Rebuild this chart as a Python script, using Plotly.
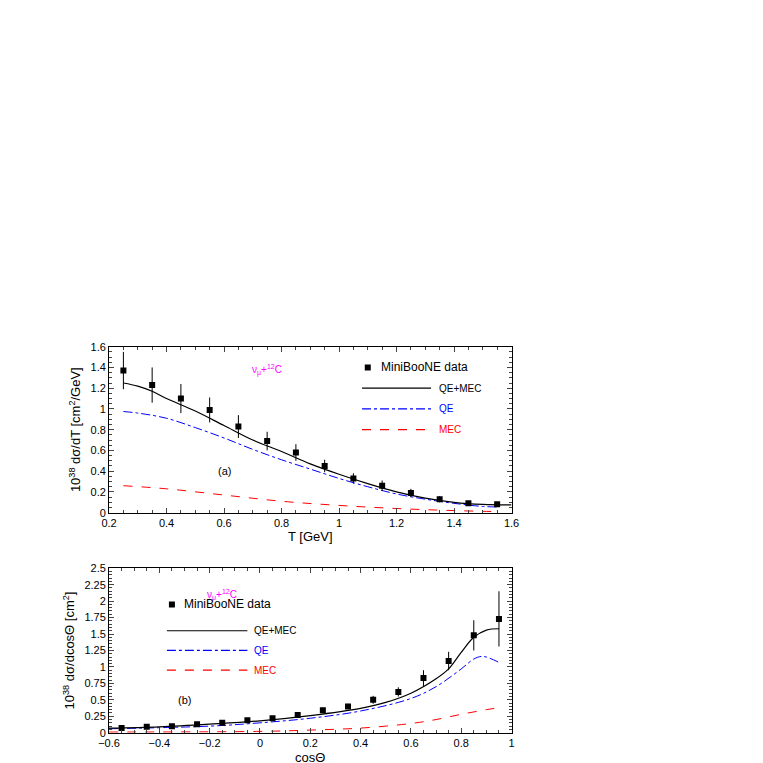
import plotly.graph_objects as go
from plotly.subplots import make_subplots

# panel (a): d sigma / dT
t_data = [0.25, 0.35, 0.45, 0.55, 0.65, 0.75, 0.85, 0.95, 1.05, 1.15, 1.25, 1.35, 1.45, 1.55]
t_vals = [1.37, 1.23, 1.10, 0.99, 0.83, 0.69, 0.58, 0.45, 0.33, 0.26, 0.19, 0.13, 0.09, 0.08]
t_errs = [0.18, 0.17, 0.14, 0.12, 0.11, 0.09, 0.08, 0.06, 0.05, 0.05, 0.04, 0.03, 0.02, 0.02]
t_tot_x = [0.25, 0.3, 0.35, 0.4, 0.5, 0.6, 0.7, 0.8, 0.9, 1.0, 1.1, 1.2, 1.3, 1.4, 1.5, 1.6]
t_tot_y = [1.25, 1.22, 1.17, 1.10, 0.98, 0.84, 0.70, 0.59, 0.47, 0.37, 0.28, 0.20, 0.14, 0.10, 0.08, 0.075]
t_qe_x = [0.25, 0.3, 0.4, 0.5, 0.6, 0.7, 0.8, 0.9, 1.0, 1.1, 1.2, 1.3, 1.4, 1.5, 1.55]
t_qe_y = [0.975, 0.96, 0.91, 0.82, 0.72, 0.61, 0.51, 0.42, 0.33, 0.25, 0.18, 0.13, 0.09, 0.06, 0.055]
t_mec_x = [0.25, 0.4, 0.6, 0.8, 1.0, 1.2, 1.4, 1.55]
t_mec_y = [0.26, 0.23, 0.17, 0.11, 0.07, 0.04, 0.02, 0.01]

# panel (b): d sigma / dcos
c_data = [-0.55, -0.45, -0.35, -0.25, -0.15, -0.05, 0.05, 0.15, 0.25, 0.35, 0.45, 0.55, 0.65, 0.75, 0.85, 0.95]
c_vals = [0.07, 0.09, 0.10, 0.13, 0.15, 0.19, 0.22, 0.27, 0.34, 0.40, 0.50, 0.62, 0.83, 1.09, 1.48, 1.73]
c_errs = [0.02, 0.02, 0.02, 0.02, 0.02, 0.02, 0.03, 0.03, 0.04, 0.04, 0.06, 0.07, 0.12, 0.14, 0.23, 0.42]
c_tot_x = [-0.6, -0.4, -0.2, 0.0, 0.2, 0.4, 0.5, 0.6, 0.7, 0.75, 0.8, 0.85, 0.9, 0.95]
c_tot_y = [0.07, 0.09, 0.13, 0.18, 0.26, 0.37, 0.46, 0.60, 0.82, 0.97, 1.22, 1.45, 1.56, 1.58]
c_qe_x = [-0.6, -0.2, 0.0, 0.2, 0.4, 0.6, 0.7, 0.8, 0.85, 0.88, 0.9, 0.95]
c_qe_y = [0.06, 0.10, 0.15, 0.22, 0.33, 0.52, 0.70, 0.97, 1.12, 1.16, 1.15, 1.07]
c_mec_x = [-0.6, 0.0, 0.2, 0.4, 0.6, 0.7, 0.8, 0.9, 0.95]
c_mec_y = [0.01, 0.02, 0.04, 0.07, 0.14, 0.20, 0.28, 0.35, 0.38]

FONT = "Liberation Sans, Arial, sans-serif"
fig = make_subplots(rows=2, cols=1)

def add_panel(row, dx, dy, de, tx, ty, qx, qy, mx, my):
    fig.add_trace(go.Scatter(x=mx, y=my, mode="lines", line=dict(color="red", width=1, dash="dash"),
                             line_shape="spline"), row=row, col=1)
    fig.add_trace(go.Scatter(x=qx, y=qy, mode="lines", line=dict(color="blue", width=1, dash="dashdot"),
                             line_shape="spline"), row=row, col=1)
    fig.add_trace(go.Scatter(x=tx, y=ty, mode="lines", line=dict(color="black", width=1.2),
                             line_shape="spline"), row=row, col=1)
    fig.add_trace(go.Scatter(x=dx, y=dy, mode="markers", marker=dict(symbol="square", size=6, color="black"),
                             error_y=dict(array=de, color="black", thickness=1, width=0),
                             error_x=dict(value=0.05, color="black", thickness=1, width=0)), row=row, col=1)

add_panel(1, t_data, t_vals, t_errs, t_tot_x, t_tot_y, t_qe_x, t_qe_y, t_mec_x, t_mec_y)
add_panel(2, c_data, c_vals, c_errs, c_tot_x, c_tot_y, c_qe_x, c_qe_y, c_mec_x, c_mec_y)

axis = dict(showline=True, linecolor="black", linewidth=1, mirror="ticks", ticks="inside",
            ticklen=5, showgrid=False, zeroline=False, tickfont=dict(size=11, color="black"),
            minor=dict(ticks="inside", ticklen=3))
fig.update_layout(
    width=763, height=763, showlegend=False,
    plot_bgcolor="white", paper_bgcolor="white",
    margin=dict(l=0, r=0, t=0, b=0),
    font=dict(family=FONT, size=11, color="black"),
    xaxis=dict(axis, domain=[0.121, 0.662], range=[0.2, 1.6], dtick=0.2,
               title=dict(text="T [GeV]", standoff=4)),
    yaxis=dict(axis, domain=[0.336, 0.557], range=[0, 1.6], dtick=0.2,
               title=dict(text="10<sup>38</sup> dσ/dT [cm<sup>2</sup>/GeV]", standoff=6)),
    xaxis2=dict(axis, domain=[0.121, 0.662], range=[-0.6, 1.0], dtick=0.2,
                title=dict(text="cosΘ", standoff=4)),
    yaxis2=dict(axis, domain=[0.043, 0.262], range=[0, 2.5], dtick=0.25,
                title=dict(text="10<sup>38</sup> dσ/dcosΘ [cm<sup>2</sup>]", standoff=6)),
)

def legend(xr, yr, xs, ys, tag, tagpos, nupos):
    fig.add_annotation(x=nupos[0], y=nupos[1], xref=xr, yref=yr, showarrow=False,
                       text="ν<sub>μ</sub>+<sup>12</sup>C", font=dict(color="magenta", size=10))
    fig.add_annotation(x=tagpos[0], y=tagpos[1], xref=xr, yref=yr, showarrow=False, text=tag)
    fig.add_trace(go.Scatter(x=[xs[0]], y=[ys[0]], xaxis=xr, yaxis=yr, mode="markers",
                             marker=dict(symbol="square", size=6, color="black")))
    fig.add_annotation(x=xs[0] + xs[3], y=ys[0], xref=xr, yref=yr, showarrow=False, xanchor="left",
                       text="MiniBooNE data", font=dict(size=12))
    styles = [("black", "solid", "QE+MEC"), ("blue", "dashdot", "QE"), ("red", "dash", "MEC")]
    for (c, d, lab), y in zip(styles, ys[1:]):
        fig.add_shape(type="line", x0=xs[1], x1=xs[2], y0=y, y1=y, xref=xr, yref=yr,
                      line=dict(color=c, width=1.2, dash=d))
        fig.add_annotation(x=xs[2] + 0.02, y=y, xref=xr, yref=yr, showarrow=False, xanchor="left",
                           text=lab, font=dict(color=c, size=10))

legend("x", "y", [1.1, 1.08, 1.32, 0.04], [1.4, 1.2, 1.0, 0.8], "(a)", (0.6, 0.4), (0.75, 1.38))
legend("x2", "y2", [-0.35, -0.37, -0.05, 0.04], [1.95, 1.55, 1.25, 0.95], "(b)", (-0.3, 0.5), (-0.15, 2.1))

fig.write_html("out.html")
